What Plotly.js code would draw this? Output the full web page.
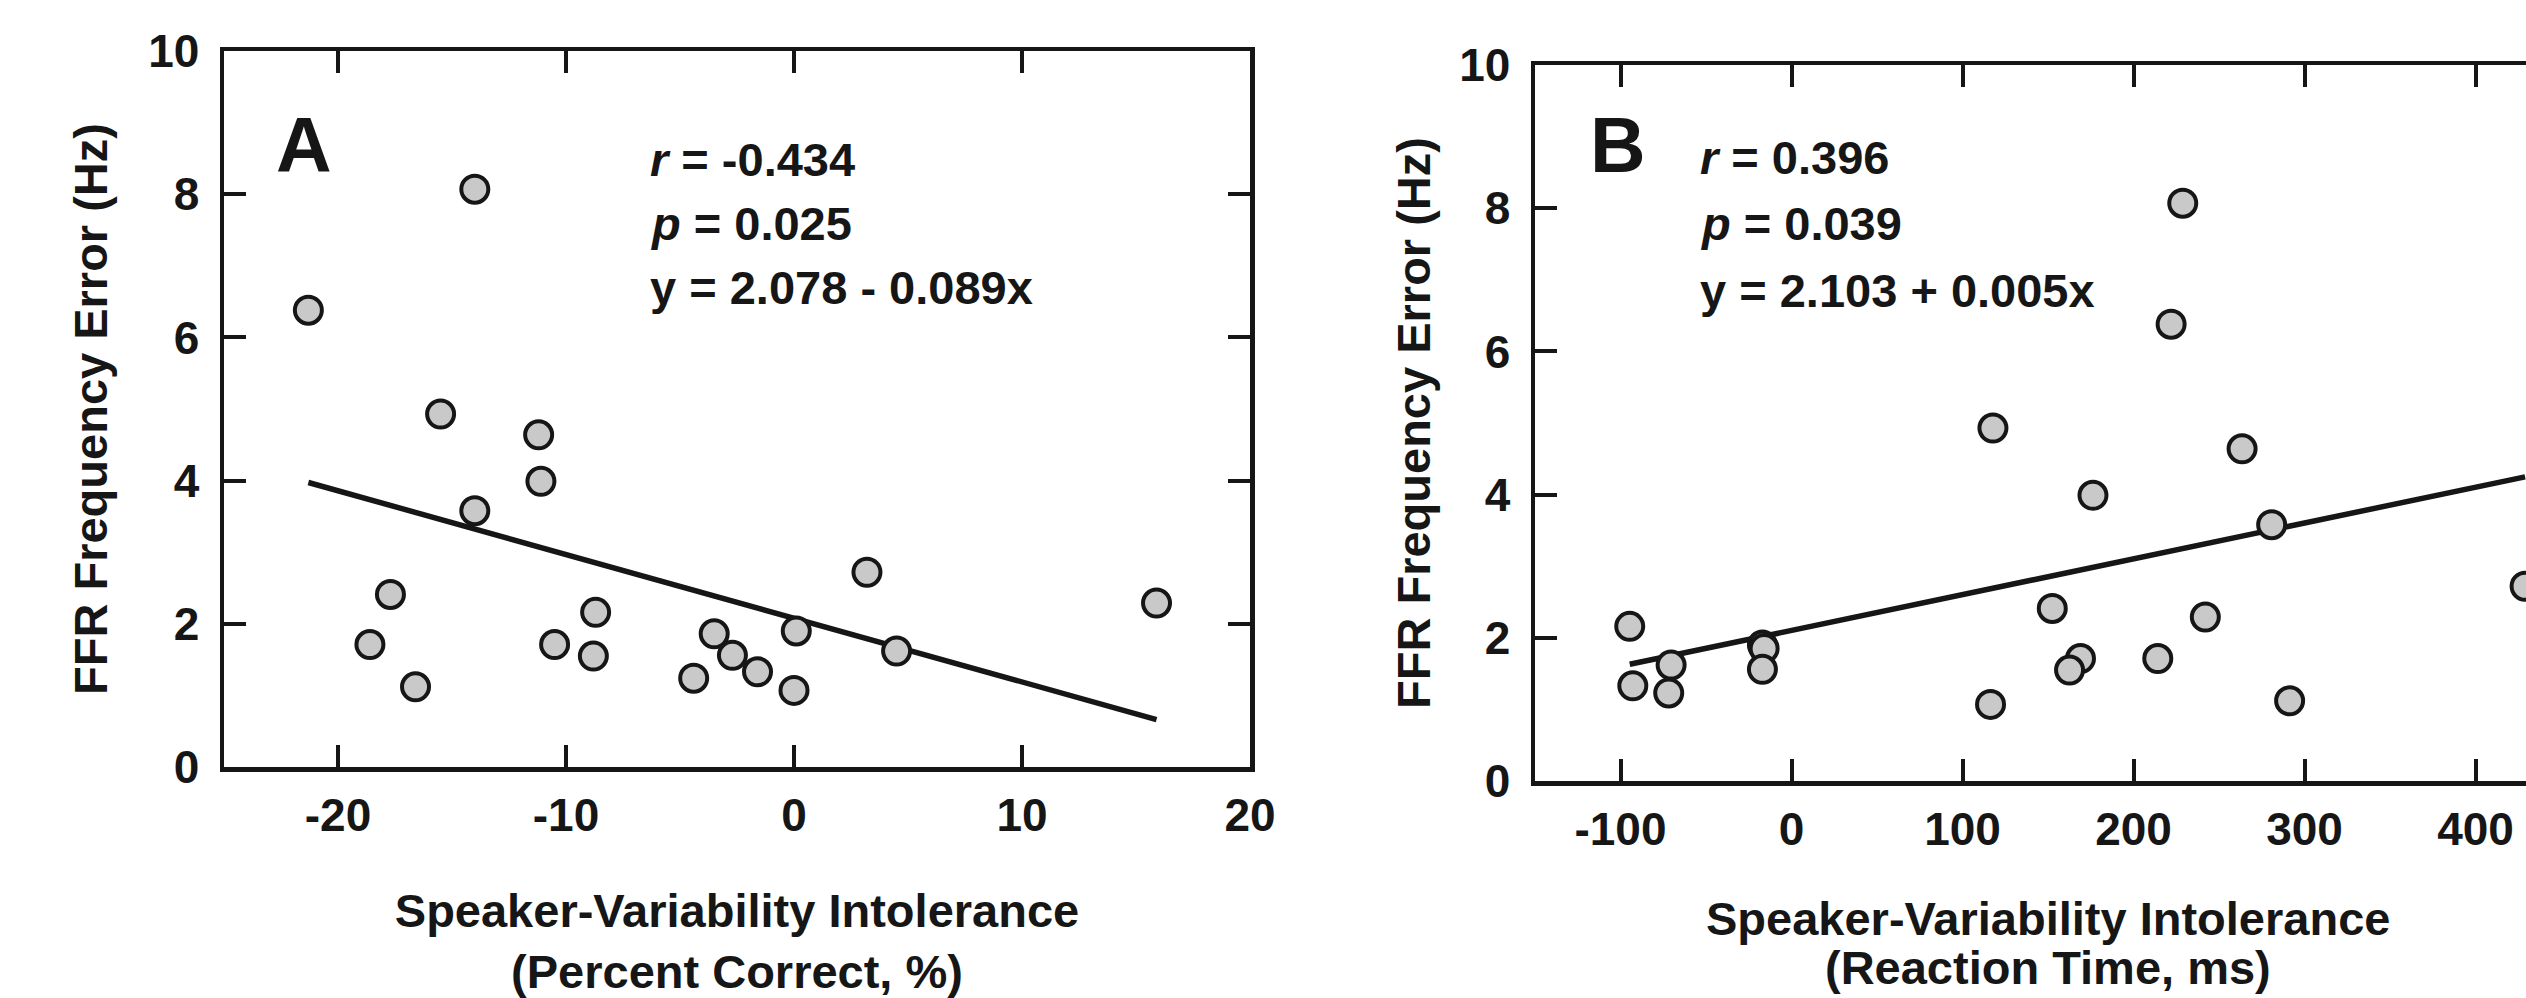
<!DOCTYPE html>
<html>
<head>
<meta charset="utf-8">
<script src="https://cdn.plot.ly/plotly-3.0.1.min.js"></script>
<style>
html,body{margin:0;padding:0;background:#fff;overflow:hidden;}
#wrap{position:relative;width:2526px;height:998px;overflow:hidden;}
#plot{position:absolute;left:0;top:0;}
</style>
</head>
<body>
<div id="wrap"><div id="plot"></div></div>
<script>
// ---- Data ----
// Panel A: Speaker-variability intolerance (percent correct, %) vs FFR frequency error (Hz)
const pctCorrectX = [-21.3, -14.0, -15.5, -11.2, -11.1, -14.0, -17.7, -18.6, -16.6, -10.5, -8.7, -8.8, -4.4, -3.5, -2.7, -1.6, 0.0, 0.1, 3.2, 4.5, 15.9];
const pctCorrectY = [6.38, 8.07, 4.93, 4.64, 3.99, 3.58, 2.41, 1.71, 1.12, 1.71, 2.16, 1.55, 1.24, 1.86, 1.56, 1.33, 1.07, 1.90, 2.72, 1.62, 2.29];
// Panel B: Speaker-variability intolerance (reaction time, ms) vs FFR frequency error (Hz)
const rtX = [-94.6, -92.8, -70.4, -71.8, -17.0, -16.0, -17.0, 117.8, 116.4, 152.5, 169.0, 162.6, 176.3, 214.2, 222.0, 228.8, 242.0, 263.5, 280.8, 291.3, 429.0];
const rtY = [2.16, 1.33, 1.62, 1.23, 1.90, 1.85, 1.56, 4.93, 1.07, 2.41, 1.71, 1.55, 3.99, 1.71, 6.38, 8.07, 2.29, 4.64, 3.58, 1.12, 2.72];
// Regression coefficients printed on the chart
const fitA = {intercept: 2.078, slope: -0.089};
const fitB = {intercept: 2.103, slope: 0.005};
// Tick values and labels
const xTickValsA = [-20, -10, 0, 10, 20];
const xTickTextA = ['-20', '-10', '0', '10', '20'];
const xTickValsB = [-100, 0, 100, 200, 300, 400];
const xTickTextB = ['-100', '0', '100', '200', '300', '400'];
const yTickVals = [0, 2, 4, 6, 8, 10];
const yTickText = ['0', '2', '4', '6', '8', '10'];
// Text
const statsA = ['<i>r</i> = -0.434', '<i>p</i> = 0.025', 'y = 2.078 - 0.089x'];
const statsB = ['<i>r</i> = 0.396', '<i>p</i> = 0.039', 'y = 2.103 + 0.005x'];
const panelLabels = ['A', 'B'];
const yTitle = 'FFR Frequency Error (Hz)';
const xTitleA = 'Speaker-Variability Intolerance<br>(Percent Correct, %)';
const xTitleBLines = ['Speaker-Variability Intolerance', '(Reaction Time, ms)'];

// ---- Layout geometry ----
const W = 2600, H = 1040;
const FONT = 'Liberation Sans, Arial, Helvetica, sans-serif';
const INK = '#161616';

function fitLine(xs, fit) {
  const x0 = Math.min(...xs), x1 = Math.max(...xs);
  return {x: [x0, x1], y: [fit.intercept + fit.slope * x0, fit.intercept + fit.slope * x1]};
}
const lineA = fitLine(pctCorrectX, fitA);
const lineB = fitLine(rtX, fitB);

const markerStyle = {size: 27, color: '#c9c9c9', line: {color: INK, width: 4}};
const traces = [
  {x: lineA.x, y: lineA.y, mode: 'lines', line: {color: INK, width: 5.5}, xaxis: 'x', yaxis: 'y', showlegend: false},
  {x: pctCorrectX, y: pctCorrectY, mode: 'markers', marker: markerStyle, xaxis: 'x', yaxis: 'y', showlegend: false},
  {x: lineB.x, y: lineB.y, mode: 'lines', line: {color: INK, width: 5.5}, xaxis: 'x2', yaxis: 'y2', showlegend: false},
  {x: rtX, y: rtY, mode: 'markers', marker: markerStyle, xaxis: 'x2', yaxis: 'y2', showlegend: false}
];

const tickFont = {family: FONT, size: 46, color: INK, weight: 'bold'};
const titleFont = {family: FONT, size: 47, color: INK, weight: 'bold'};
function axisBase(extra) {
  return Object.assign({
    showgrid: false, zeroline: false, showline: true, linecolor: INK, linewidth: 4.5,
    mirror: 'ticks', ticks: 'inside', ticklen: 22, tickwidth: 4, tickcolor: INK,
    tickmode: 'array', tickfont: tickFont, fixedrange: true
  }, extra);
}
function px2x(p) { return p / W; }
function py2y(p) { return (H - p) / H; }

const layout = {
  width: W, height: H,
  margin: {l: 0, r: 0, t: 0, b: 0},
  paper_bgcolor: '#fff', plot_bgcolor: '#fff',
  showlegend: false,
  xaxis: axisBase({domain: [px2x(224), px2x(1250)], range: [-25, 20], tickvals: xTickValsA, ticktext: xTickTextA, anchor: 'y',
    ticklabelstandoff: 4,
    title: {text: xTitleA, font: titleFont, standoff: 56}}),
  yaxis: axisBase({domain: [py2y(767), py2y(51)], range: [0, 10], tickvals: yTickVals, ticktext: yTickText, anchor: 'x',
    ticklabelstandoff: 11,
    title: {text: yTitle, font: titleFont, standoff: 27}}),
  xaxis2: axisBase({domain: [px2x(1535), px2x(2561)], range: [-150, 450], tickvals: xTickValsB, ticktext: xTickTextB, anchor: 'y2',
    ticklabelstandoff: 4}),
  yaxis2: axisBase({domain: [py2y(781), py2y(65)], range: [0, 10], tickvals: yTickVals, ticktext: yTickText, anchor: 'x2',
    ticklabelstandoff: 11,
    title: {text: yTitle, font: titleFont, standoff: 15}}),
  annotations: []
};

// Panel B x-axis title (two lines, tighter spacing as in the reference)
const xTitleBRows = [918, 967];
xTitleBLines.forEach((t, i) => layout.annotations.push({text: t, xref: 'paper', yref: 'paper',
  x: px2x((1535 + 2561) / 2), y: py2y(xTitleBRows[i]), xanchor: 'center', yanchor: 'middle',
  showarrow: false, font: titleFont}));

// Panel letters
[[panelLabels[0], 304], [panelLabels[1], 1618]].forEach(([t, px]) => {
  layout.annotations.push({text: t, xref: 'paper', yref: 'paper', x: px2x(px), y: py2y(145),
    xanchor: 'center', yanchor: 'middle', showarrow: false,
    font: {family: FONT, size: 77, color: INK, weight: 'bold'}});
});
// Statistics text
const statRowsA = [159, 223, 287], statRowsB = [157, 223, 290];
const statFont = {family: FONT, size: 47, color: INK, weight: 'bold'};
statsA.forEach((t, i) => layout.annotations.push({text: t, xref: 'paper', yref: 'paper', x: px2x(648), y: py2y(statRowsA[i]),
  xanchor: 'left', yanchor: 'middle', showarrow: false, font: statFont}));
statsB.forEach((t, i) => layout.annotations.push({text: t, xref: 'paper', yref: 'paper', x: px2x(1698), y: py2y(statRowsB[i]),
  xanchor: 'left', yanchor: 'middle', showarrow: false, font: statFont}));

Plotly.newPlot('plot', traces, layout, {staticPlot: true, displayModeBar: false, responsive: false});
</script>
</body>
</html>
